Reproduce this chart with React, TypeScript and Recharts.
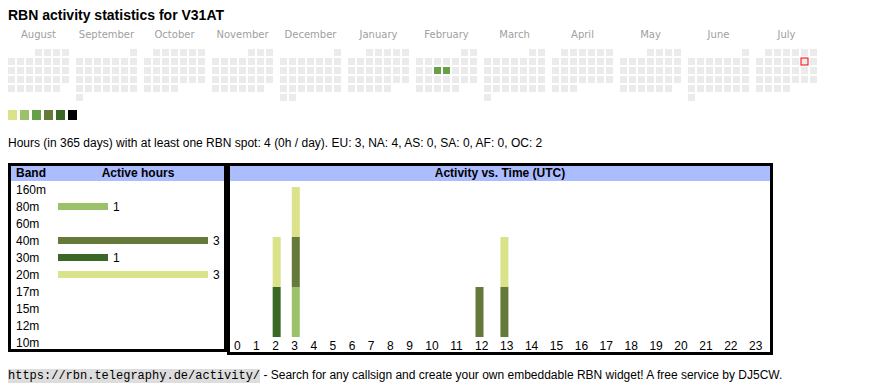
import { BarChart, Bar, XAxis, YAxis, ScatterChart, Scatter, LabelList, Cell } from "recharts";

// calendar (Aug 2024 .. Jul 2025)
const months = ["August", "September", "October", "November", "December", "January", "February", "March", "April", "May", "June", "July"];
const activeDays = ["2025-02-12", "2025-02-13"];
const activeLevels = [2, 2];
const today = "2025-07-12";
const levelColors = ["#dae28a", "#9bc16a", "#67a046", "#65793a", "#3b6727", "#000000"];

// band table
const bands = ["160m", "80m", "60m", "40m", "30m", "20m", "17m", "15m", "12m", "10m"];
const bandHours = [0, 1, 0, 3, 1, 3, 0, 0, 0, 0];
const bandColors = ["#000000", "#9bc16a", "#67a046", "#65793a", "#3b6727", "#dae28a", "#9bc16a", "#67a046", "#65793a", "#3b6727"];

// activity vs. time (UTC)
const hourLabels = ["0", "1", "2", "3", "4", "5", "6", "7", "8", "9", "10", "11", "12", "13", "14", "15", "16", "17", "18", "19", "20", "21", "22", "23"];
const hours80m = [0, 0, 0, 1, 0, 0, 0, 0, 0, 0, 0, 0, 0, 0, 0, 0, 0, 0, 0, 0, 0, 0, 0, 0];
const hours40m = [0, 0, 0, 1, 0, 0, 0, 0, 0, 0, 0, 0, 1, 1, 0, 0, 0, 0, 0, 0, 0, 0, 0, 0];
const hours30m = [0, 0, 1, 0, 0, 0, 0, 0, 0, 0, 0, 0, 0, 0, 0, 0, 0, 0, 0, 0, 0, 0, 0, 0];
const hours20m = [0, 0, 1, 1, 0, 0, 0, 0, 0, 0, 0, 0, 0, 1, 0, 0, 0, 0, 0, 0, 0, 0, 0, 0];

const MONTH_PITCH = 68 / 9;
const pad = (n: number) => String(n).padStart(2, "0");

function buildCells() {
    const cells: { col: number; row: number; level: number; today: boolean }[] = [];
    for (let m = 0; m < 12; m++) {
        const yr = 2024 + Math.floor((7 + m) / 12);
        const mo = (7 + m) % 12;
        const offset = (new Date(Date.UTC(yr, mo, 1)).getUTCDay() + 6) % 7;
        const nDays = new Date(Date.UTC(yr, mo + 1, 0)).getUTCDate();
        for (let d = 1; d <= nDays; d++) {
            const idx = offset + d - 1;
            const key = `${yr}-${pad(mo + 1)}-${pad(d)}`;
            const a = activeDays.indexOf(key);
            cells.push({
                col: m * MONTH_PITCH + (idx % 7),
                row: Math.floor(idx / 7),
                level: a >= 0 ? activeLevels[a] : -1,
                today: key === today,
            });
        }
    }
    return cells;
}

const monthTicks = months.map((_, m) => m * MONTH_PITCH + 3);

// table-like column widths (1 or 2 digit labels)
const colWidth = (l: string) => (l.length === 1 ? 19.2 : 25);
const hourPos: number[] = [];
{
    let acc = 0;
    hourLabels.forEach((l) => {
        hourPos.push(acc + 8);
        acc += colWidth(l);
    });
}

const DayCell = (p: any) => {
    const { cx, cy, payload } = p;
    const fill = payload.level >= 0 ? levelColors[payload.level] : "#ebebeb";
    return (
        <rect x={cx - 3.5} y={cy - 3.5} width={7} height={7} fill={fill}
            stroke={payload.today ? "#ff0000" : "none"} strokeWidth={1} />
    );
};

const BandTick = (p: any) => (
    <text x={8} y={p.y} dy={4} fontSize={12} fill="#000" textAnchor="start">{p.payload.value}</text>
);

const HourTick = (p: any) => (
    <text x={p.x - 4} y={p.y} dy={13} fontSize={12} fill="#000" textAnchor="start">{hourLabels[p.index]}</text>
);

const headerStyle: React.CSSProperties = {
    position: "absolute", left: 0, right: 0, top: 0, height: 15, lineHeight: "15px",
    background: "#abbcff", fontWeight: "bold", fontSize: 12,
};

export default function App() {
    const cells = buildCells();
    const tableData = bands.map((b, i) => ({ band: b, hours: bandHours[i] }));
    const timeData = hourLabels.map((l, i) => ({
        pos: hourPos[i], h80: hours80m[i], h40: hours40m[i], h30: hours30m[i], h20: hours20m[i],
    }));

    return (
        <div style={{ position: "absolute", left: 0, top: 0, width: 870, height: 390, background: "#fff",
            fontFamily: "'Liberation Sans', Arial, sans-serif", fontSize: 12, color: "#000" }}>
            <div style={{ position: "absolute", left: 8, top: 7, fontSize: 14, fontWeight: "bold", whiteSpace: "nowrap" }}>
                RBN activity statistics for V31AT
            </div>

            <div style={{ position: "absolute", left: 7, top: 28 }}>
                <ScatterChart width={819} height={74} margin={{ top: 0, right: 0, bottom: 0, left: 0 }}>
                    <XAxis dataKey="col" type="number" orientation="top" domain={[-0.5, 90.5]} ticks={monthTicks}
                        interval={0} height={20} axisLine={false} tickLine={false} tickSize={0} tickMargin={10}
                        tickFormatter={(_v: number, i: number) => months[i]}
                        tick={{ fontSize: 10, fill: "#a0a0a0", fontFamily: "'DejaVu Sans', Verdana, sans-serif" }} />
                    <YAxis dataKey="row" type="number" domain={[-0.5, 5.5]} reversed hide />
                    <Scatter data={cells} shape={DayCell} isAnimationActive={false} />
                </ScatterChart>
            </div>

            {levelColors.map((c, i) => (
                <div key={c} style={{ position: "absolute", left: 8 + i * 12, top: 110, width: 9, height: 10, background: c }} />
            ))}

            <div style={{ position: "absolute", left: 8, top: 136, whiteSpace: "nowrap" }}>
                Hours (in 365 days) with at least one RBN spot: 4 (0h / day). EU: 3, NA: 4, AS: 0, SA: 0, AF: 0, OC: 2
            </div>

            <div style={{ position: "absolute", left: 8, top: 163, width: 219, height: 189, border: "3px solid #000", boxSizing: "border-box" }}>
                <div style={headerStyle}>
                    <span style={{ position: "absolute", left: 5 }}>Band</span>
                    <span style={{ position: "absolute", left: 127, transform: "translateX(-50%)", whiteSpace: "nowrap" }}>Active hours</span>
                </div>
            </div>
            <div style={{ position: "absolute", left: 8, top: 181 }}>
                <BarChart layout="vertical" width={216} height={170} data={tableData} margin={{ top: 0, right: 16, bottom: 0, left: 0 }}>
                    <XAxis type="number" domain={[0, 3]} hide />
                    <YAxis type="category" dataKey="band" width={50} interval={0} axisLine={false} tickLine={false} tickSize={0} tick={BandTick} />
                    <Bar dataKey="hours" barSize={7} isAnimationActive={false}>
                        {tableData.map((d, i) => <Cell key={d.band} fill={bandColors[i]} />)}
                        <LabelList dataKey="hours" position="right" offset={5} fontSize={12} fill="#000"
                            formatter={(v: any) => (v > 0 ? v : "")} />
                    </Bar>
                </BarChart>
            </div>

            <div style={{ position: "absolute", left: 227, top: 163, width: 546, height: 192, border: "3px solid #000", boxSizing: "border-box" }}>
                <div style={{ ...headerStyle, textAlign: "center" }}>Activity vs. Time (UTC)</div>
            </div>
            <div style={{ position: "absolute", left: 230, top: 181 }}>
                <BarChart width={540} height={171} data={timeData} margin={{ top: 6, right: 0, bottom: 0, left: 0 }}>
                    <XAxis dataKey="pos" type="number" domain={[0, 542]} ticks={hourPos} interval={0} height={15}
                        axisLine={false} tickLine={false} tickSize={0} tickMargin={0} tick={HourTick} />
                    <YAxis type="number" domain={[0, 3]} hide />
                    <Bar dataKey="h80" stackId="a" fill="#9bc16a" barSize={8} isAnimationActive={false} />
                    <Bar dataKey="h40" stackId="a" fill="#65793a" barSize={8} isAnimationActive={false} />
                    <Bar dataKey="h30" stackId="a" fill="#3b6727" barSize={8} isAnimationActive={false} />
                    <Bar dataKey="h20" stackId="a" fill="#dae28a" barSize={8} isAnimationActive={false} />
                </BarChart>
            </div>

            <div style={{ position: "absolute", left: 8, top: 368, lineHeight: "14px", whiteSpace: "nowrap" }}>
                <span style={{ background: "#dddddd", fontFamily: "'Liberation Mono', monospace", fontSize: 12 }}>https://rbn.telegraphy.de/activity/</span>
                {" - Search for any callsign and create your own embeddable RBN widget! A free service by DJ5CW."}
            </div>
        </div>
    );
}
